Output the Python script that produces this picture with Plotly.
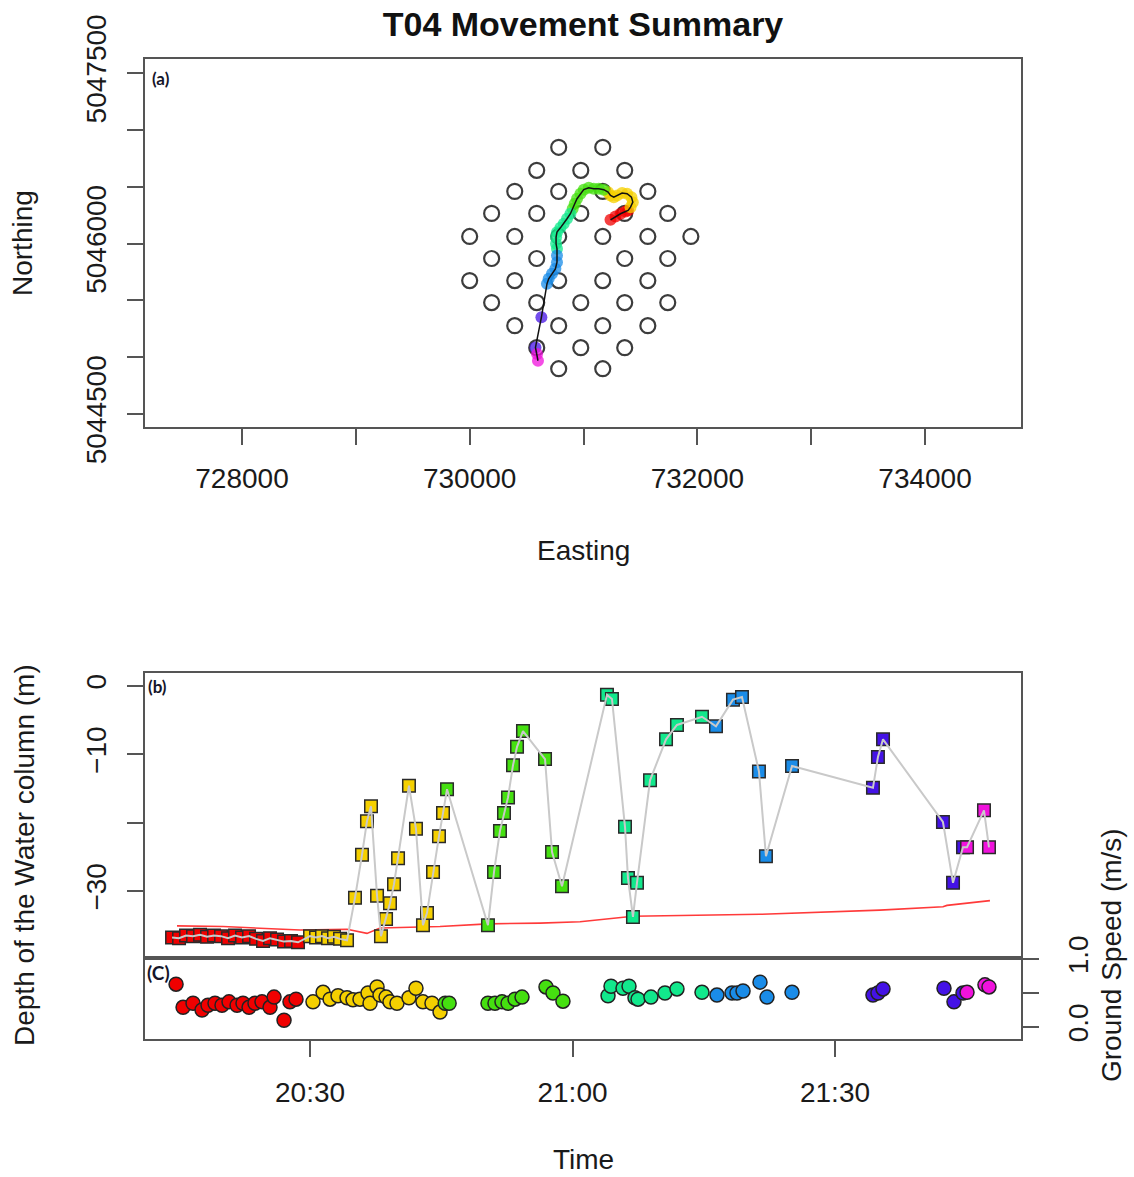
import bisect
import pandas as pd
import plotly.graph_objects as go

# ---------------- data ----------------
# receiver array (Easting, Northing)
rx_e = [730782, 731169,
        730589, 730976, 731362,
        730396, 730782, 731169, 731565,
        730193, 730589, 730976, 731362, 731740,
        730000, 730396, 730782, 731169, 731565, 731943,
        730193, 730589, 731362, 731740,
        730000, 730396, 730782, 731169, 731565,
        730193, 730589, 730976, 731362, 731740,
        730396, 730782, 731169, 731565,
        730589, 730976, 731362,
        730782, 731169]
rx_n = [5046847] * 2 + [5046644] * 3 + [5046459] * 4 + [5046265] * 5 + [5046062] * 6 + \
       [5045868] * 4 + [5045674] * 5 + [5045480] * 5 + [5045277] * 4 + [5045083] * 3 + [5044898] * 2

# fish track (positions), colour group per position
trk_e = [731237, 731281, 731325, 731369, 731392,
         731413, 731433, 731421, 731383, 731339, 731295, 731266, 731237, 731216,
         731178, 731134, 731090, 731046, 731002, 730973, 730943, 730923, 730905,
         730885, 730855, 730826, 730797, 730767, 730759, 730759, 730767,
         730767, 730767, 730753, 730723, 730694, 730679,
         730630, 730578,
         730592, 730600]
trk_n = [5046209, 5046238, 5046262, 5046282, 5046291,
         5046320, 5046364, 5046408, 5046438, 5046444, 5046423, 5046408, 5046423, 5046452,
         5046474, 5046482, 5046482, 5046491, 5046474, 5046438, 5046394, 5046350, 5046306,
         5046262, 5046218, 5046174, 5046138, 5046100, 5046056, 5045997, 5045953,
         5045894, 5045835, 5045777, 5045733, 5045689, 5045645,
         5045350, 5045085,
         5045027, 5044968]
trk_grp = [0] * 5 + [1] * 9 + [2] * 9 + [3] * 8 + [4] * 6 + [5] * 2 + [6] * 2

# depth record: minutes after 20:00, depth (m)
depth_min = [14.23, 15.03, 15.83, 16.63, 17.43, 18.23, 19.03, 19.83, 20.63, 21.43,
             22.23, 23.03, 23.83, 24.63, 25.43, 26.23, 27.03, 27.83, 28.63,
             30.00, 30.69, 31.37, 32.06, 32.74, 33.43, 34.23, 35.14, 35.94, 36.51,
             36.97, 37.66, 38.11, 38.69, 39.14, 39.60, 40.06, 41.31, 42.11, 42.91,
             43.37, 44.06, 44.74, 45.20,
             45.66, 50.34, 51.03, 51.71, 52.17, 52.63, 53.20, 53.66, 54.34, 56.86, 57.66, 58.80,
             63.94, 64.51, 66.00, 66.34, 66.91, 67.37, 68.86, 70.69, 71.94, 74.80,
             76.40, 78.34, 79.37, 81.31, 82.11, 85.09,
             94.34, 94.91, 95.49, 102.34, 103.49, 104.63,
             105.09, 107.03, 107.60]
depth_m = [-36.8, -36.9, -36.5, -36.6, -36.4, -36.7, -36.5, -36.6, -36.9, -36.5,
           -36.8, -36.6, -37.0, -37.3, -36.9, -37.1, -37.4, -37.3, -37.5,
           -36.6, -36.8, -36.6, -36.9, -36.7, -37.0, -37.2, -31.0, -24.7, -19.8,
           -17.6, -30.7, -36.6, -34.1, -31.8, -29.0, -25.2, -14.6, -20.9, -35.0,
           -33.2, -27.2, -22.0, -18.6,
           -15.1, -35.0, -27.2, -21.2, -18.6, -16.3, -11.6, -8.9, -6.6, -10.7, -24.3, -29.3,
           -1.3, -1.9, -20.6, -28.1, -33.8, -28.8, -13.8, -7.8, -5.7, -4.5,
           -5.9, -2.0, -1.6, -12.5, -24.9, -11.7,
           -14.9, -10.4, -7.8, -19.9, -28.8, -23.6,
           -23.6, -18.2, -23.6]

# bottom depth line
bottom_min = [14.8, 20.06, 28.86, 34.23, 36.51, 38.0, 44.86, 50.34, 56.29, 60.86,
              66.91, 81.43, 95.14, 102.34, 102.8, 107.71]
bottom_m = [-35.1, -35.2, -35.7, -35.6, -36.2, -35.4, -35.2, -34.8, -34.7, -34.5,
            -33.7, -33.4, -32.8, -32.3, -32.1, -31.4]

# ground speed: minutes after 20:00, speed (m/s)
speed_min = [14.69, 15.49, 16.63, 17.66, 18.34, 19.14, 19.94, 20.74, 21.66, 22.34,
             23.03, 23.71, 24.51, 25.43, 25.89, 27.03, 27.71, 28.40,
             30.34, 31.49, 32.29, 33.20, 34.23, 34.91, 35.71, 36.63, 36.86, 37.66,
             38.00, 38.69, 39.14, 39.94, 41.31, 42.11, 42.91, 43.94, 44.86,
             45.45, 45.90, 50.34, 51.14, 51.94, 52.63, 53.43, 54.23, 56.97, 57.77, 58.91,
             64.06, 64.40, 65.77, 66.46, 67.14, 67.49, 68.97, 70.57, 71.94, 74.80,
             76.51, 78.23, 78.80, 79.49, 81.43, 82.23, 85.09,
             94.34, 94.91, 95.49, 102.46, 103.60, 104.63,
             105.09, 107.14, 107.60]
speed_ms = [0.63, 0.29, 0.35, 0.25, 0.32, 0.35, 0.32, 0.37, 0.32, 0.35,
            0.29, 0.35, 0.37, 0.29, 0.44, 0.10, 0.37, 0.41,
            0.37, 0.51, 0.41, 0.46, 0.43, 0.40, 0.41, 0.50, 0.35, 0.59,
            0.47, 0.44, 0.37, 0.35, 0.43, 0.57, 0.37, 0.35, 0.22,
            0.35, 0.35, 0.35, 0.35, 0.37, 0.35, 0.41, 0.44, 0.59, 0.50, 0.38,
            0.46, 0.60, 0.57, 0.60, 0.43, 0.41, 0.44, 0.50, 0.56, 0.51,
            0.47, 0.50, 0.50, 0.53, 0.66, 0.44, 0.51,
            0.47, 0.50, 0.56, 0.57, 0.37, 0.50,
            0.51, 0.62, 0.59]

# time colour bins (minutes after 20:00) and palette (rainbow(7))
bin_edges = [29.3, 45.35, 61.0, 75.6, 90.0, 104.85]
palette = ["#F00000", "#F5D000", "#45E010", "#12E88C", "#1A8CE8", "#4412E6", "#F012DC"]

x_ticks_e = [728000, 729000, 730000, 731000, 732000, 733000, 734000]
x_ticktext_e = ["728000", "", "730000", "", "732000", "", "734000"]
y_ticks_n = [5044500, 5045000, 5045500, 5046000, 5046500, 5047000, 5047500]
y_ticktext_n = ["5044500", "", "", "5046000", "", "", "5047500"]
depth_ticks = [0, -10, -20, -30]
depth_ticktext = ["0", "\u221210", "", "\u221230"]
speed_ticks = [0.0, 0.5, 1.0]
speed_ticktext = ["0.0", "", "1.0"]
time_ticks_min = [30, 60, 90]

# ---------------- helpers ----------------
base = pd.Timestamp("2015-06-01 20:00:00")


def to_time(mins):
    return [base + pd.Timedelta(minutes=m) for m in mins]


def colour_of(mins):
    return [palette[bisect.bisect_left(bin_edges, m)] for m in mins]


W, H = 1134, 1177
FONT = "Liberation Sans, Arial, sans-serif"
AX = "#555555"

fig = go.Figure()

# (a) map
fig.add_trace(go.Scatter(x=rx_e, y=rx_n, mode="markers", xaxis="x", yaxis="y",
                         marker=dict(symbol="circle-open", size=15, color="#3c3c3c",
                                     line=dict(width=2.2, color="#3c3c3c")),
                         hoverinfo="skip"))
fig.add_trace(go.Scatter(x=trk_e, y=trk_n, mode="markers", xaxis="x", yaxis="y",
                         marker=dict(size=12, color=[palette[g] for g in trk_grp], opacity=0.75,
                                     line=dict(width=0))))
fig.add_trace(go.Scatter(x=trk_e, y=trk_n, mode="lines", xaxis="x", yaxis="y",
                         line=dict(color="#111111", width=1.5)))

# (b) depth
t_depth = to_time(depth_min)
fig.add_trace(go.Scatter(x=to_time(bottom_min), y=bottom_m, mode="lines", xaxis="x2", yaxis="y2",
                         line=dict(color="#FF3A3A", width=1.6)))
fig.add_trace(go.Scatter(x=t_depth, y=depth_m, mode="markers", xaxis="x2", yaxis="y2",
                         marker=dict(symbol="square", size=12.5, color=colour_of(depth_min),
                                     line=dict(width=1.5, color="#2a2a2a"))))
fig.add_trace(go.Scatter(x=t_depth, y=depth_m, mode="lines", xaxis="x2", yaxis="y2",
                         line=dict(color="#c9c9c9", width=2)))

# (c) ground speed
fig.add_trace(go.Scatter(x=to_time(speed_min), y=speed_ms, mode="markers", xaxis="x3", yaxis="y3",
                         marker=dict(size=14, color=colour_of(speed_min),
                                     line=dict(width=1.5, color="#222222"))))

xdom = [145 / W, 1021 / W]


def ydom(top_px, bot_px):
    return [1 - bot_px / H, 1 - top_px / H]


axis_common = dict(showline=True, linecolor=AX, linewidth=1.6, mirror=True, showgrid=False,
                   zeroline=False, ticks="outside", ticklen=16, tickwidth=1.6, tickcolor=AX,
                   automargin=False,
                   tickfont=dict(family=FONT, size=28, color="#1a1a1a"))

t_range = to_time([11.14, 111.26])

fig.update_layout(
    width=W, height=H, margin=dict(l=0, r=0, t=0, b=0, autoexpand=False),
    paper_bgcolor="white", plot_bgcolor="white", showlegend=False,
    title=dict(text="<b>T04 Movement Summary</b>", x=583 / W, y=1 - 24 / H,
               xanchor="center", yanchor="middle",
               font=dict(family=FONT, size=34, color="#111111")),
    xaxis=dict(domain=xdom, anchor="y", range=[727148, 734843],
               tickmode="array", tickvals=x_ticks_e, ticktext=x_ticktext_e,
               ticklabelstandoff=10, **axis_common),
    yaxis=dict(domain=ydom(59, 427), anchor="x", range=[5044385, 5047624],
               tickmode="array", tickvals=y_ticks_n, ticktext=y_ticktext_n,
               tickangle=-90, ticklabelstandoff=10, **axis_common),
    xaxis2=dict(domain=xdom, anchor="y2", range=t_range, type="date",
                showticklabels=False, **axis_common),
    yaxis2=dict(domain=ydom(673, 958), anchor="x2", range=[-39.8, 1.9],
                tickmode="array", tickvals=depth_ticks, ticktext=depth_ticktext,
                tickangle=-90, ticklabelstandoff=10, **axis_common),
    xaxis3=dict(domain=xdom, anchor="y3", range=t_range, type="date",
                tickmode="array", tickvals=to_time(time_ticks_min), tickformat="%H:%M",
                ticklabelstandoff=12, **axis_common),
    yaxis3=dict(domain=ydom(958, 1039), anchor="x3", range=[-0.176, 1.015], side="right",
                tickmode="array", tickvals=speed_ticks, ticktext=speed_ticktext,
                tickangle=-90, ticklabelstandoff=16, **axis_common),
)
fig.layout.xaxis2.ticks = ""

ann_font = dict(family=FONT, size=28, color="#1a1a1a")
lab_font = dict(family="Lato, Open Sans, sans-serif", size=17, color="#15152a")
annotations = [
    dict(text="Northing", x=22 / W, y=1 - 243 / H, textangle=-90, font=ann_font),
    dict(text="Easting", x=583 / W, y=1 - 550 / H, font=ann_font),
    dict(text="Depth of the Water column (m)", x=24 / W, y=1 - 855 / H, textangle=-90, font=ann_font),
    dict(text="Time", x=583 / W, y=1 - 1159 / H, font=ann_font),
    dict(text="Ground Speed (m/s)", x=1111 / W, y=1 - 955 / H, textangle=-90, font=ann_font),
    dict(text="<b>(a)</b>", x=150 / W, y=1 - 79 / H, xanchor="left", font=lab_font),
    dict(text="<b>(b)</b>", x=146 / W, y=1 - 686 / H, xanchor="left", font=lab_font),
    dict(text="<b>(C)</b>", x=145 / W, y=1 - 972 / H, xanchor="left",
         font=dict(family="Lato, Open Sans, sans-serif", size=19, color="#15152a")),
]
for a in annotations:
    a.update(xref="paper", yref="paper", showarrow=False)
    a.setdefault("xanchor", "center")
    a.setdefault("yanchor", "middle")
fig.update_layout(annotations=annotations)

fig.write_html("out.html")
